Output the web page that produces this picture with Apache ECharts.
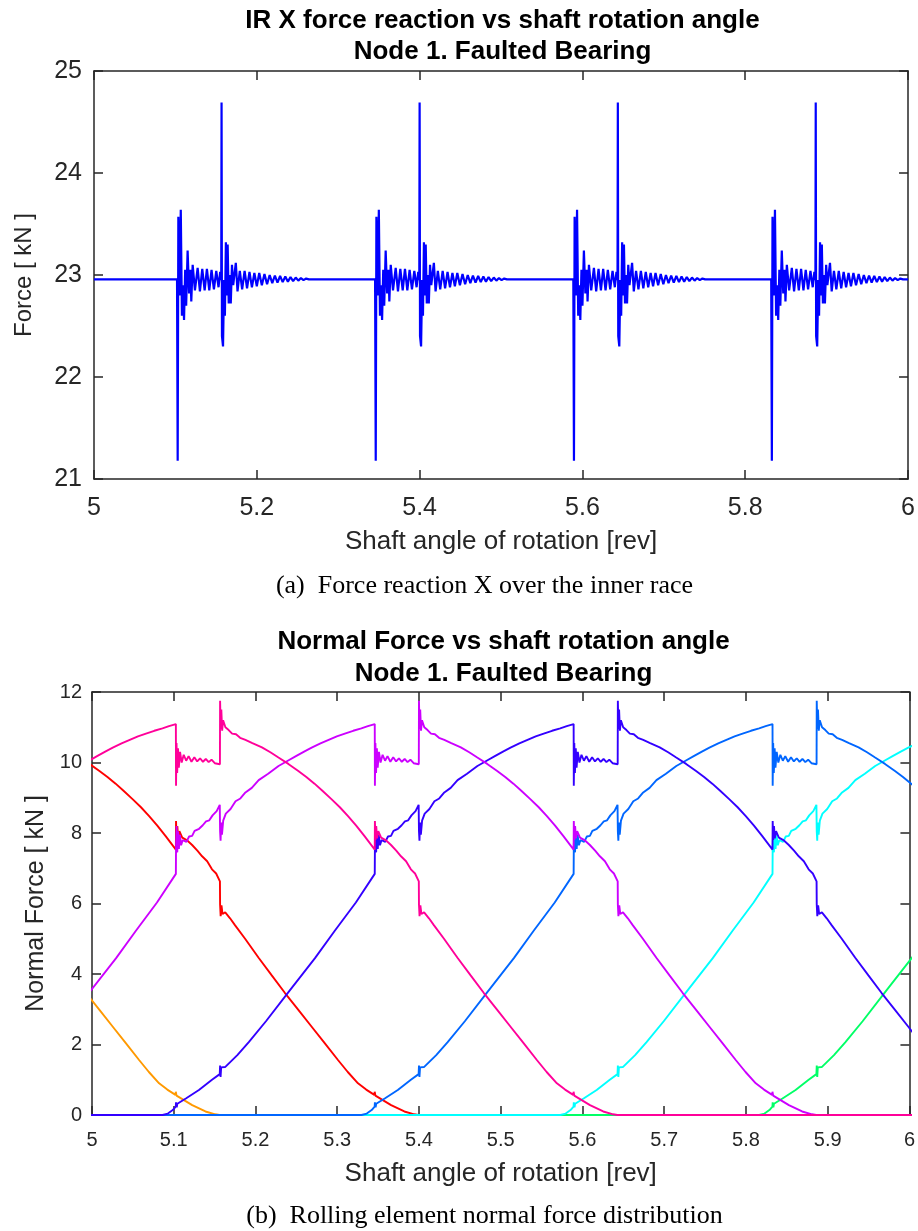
<!DOCTYPE html>
<html>
<head>
<meta charset="utf-8">
<script src="https://cdn.jsdelivr.net/npm/echarts@6/dist/echarts.min.js"></script>
<style>
html,body{margin:0;padding:0;background:#fff;}
#chart{width:918px;height:1231px;}
</style>
</head>
<body>
<div id="chart"></div>
<script>
// ---------- Top chart: IR X force reaction ----------
const irXRange = [5, 6];
const irYRange = [21, 25];
const irBaseline = 22.957;
// fault-impact times (first spike of each burst)
const irBurstTimes = [5.1028, 5.3461, 5.5896, 5.8327];
// burst shape: [offset from first spike (rev), force (kN)]
const irBurst = [
  [-0.0008, 22.957], [0.0000, 21.18], [0.0008, 23.57], [0.0022, 22.80], [0.0038, 23.64],
  [0.0052, 22.60], [0.0064, 22.90], [0.0078, 22.56], [0.0092, 23.05], [0.0104, 22.70],
  [0.0122, 23.24], [0.0140, 22.82], [0.0157, 23.05], [0.0167, 22.74], [0.0184, 23.10],
  [0.0212, 22.85], [0.0245, 23.07], [0.0273, 22.84], [0.0302, 23.06], [0.0331, 22.85],
  [0.0359, 23.06], [0.0388, 22.85], [0.0416, 23.05], [0.0445, 22.86], [0.0474, 23.04],
  [0.0502, 22.88], [0.0522, 23.03], [0.0535, 22.95], [0.0539, 24.69], [0.0544, 22.40],
  [0.0557, 22.30], [0.0570, 22.95], [0.0580, 22.60], [0.0592, 23.32], [0.0602, 22.80],
  [0.0614, 23.30], [0.0627, 22.72], [0.0640, 23.00], [0.0652, 22.72], [0.0667, 23.10],
  [0.0682, 22.90], [0.0714, 23.12], [0.0735, 22.84], [0.0763, 23.04], [0.0792, 22.86],
  [0.0822, 23.04], [0.0852, 22.87], [0.0882, 23.03], [0.0912, 22.88], [0.0942, 23.02],
  [0.0972, 22.89], [0.1002, 23.02], [0.1034, 22.90], [0.1066, 23.01], [0.1098, 22.91],
  [0.1130, 23.00], [0.1162, 22.92], [0.1194, 22.995], [0.1226, 22.925], [0.1258, 22.99],
  [0.1290, 22.93], [0.1322, 22.985], [0.1354, 22.935], [0.1386, 22.98], [0.1418, 22.94],
  [0.1450, 22.975], [0.1482, 22.945], [0.1514, 22.97], [0.1546, 22.95], [0.1578, 22.965],
  [0.1612, 22.957]
];

// ---------- Bottom chart: rolling element normal force ----------
const nfXRange = [5, 6];
const nfYRange = [0, 12];
// load-zone profile of one rolling element:
// [offset from the impact at which it enters the load zone (rev), normal force (kN)]
const nfProfile = [
  [-0.0165, 0.00], [-0.0100, 0.04], [-0.0040, 0.14], [-0.0003, 0.24], [0.0000, 0.36],
  [0.0008, 0.22], [0.0016, 0.32], [0.0120, 0.47], [0.0280, 0.71], [0.0440, 1.00],
  [0.0535, 1.16], [0.0539, 1.40], [0.0545, 1.08], [0.0552, 1.35], [0.0600, 1.36],
  [0.0750, 1.70], [0.0890, 2.07], [0.1100, 2.66], [0.1380, 3.50], [0.1700, 4.45],
  [0.1940, 5.22], [0.2200, 6.03], [0.2431, 6.84], [0.2433, 7.60], [0.2440, 8.20],
  [0.2448, 7.45], [0.2458, 8.05], [0.2468, 7.55], [0.2480, 7.95], [0.2495, 7.65],
  [0.2515, 7.80], [0.2560, 7.75], [0.2593, 7.90], [0.2630, 7.92], [0.2660, 8.06],
  [0.2715, 8.12], [0.2760, 8.22], [0.2800, 8.33], [0.2840, 8.36], [0.2880, 8.50],
  [0.2930, 8.62], [0.2968, 8.80], [0.2972, 8.05], [0.2978, 7.78], [0.2985, 8.30],
  [0.2995, 7.95], [0.3010, 8.35], [0.3042, 8.55], [0.3100, 8.68], [0.3161, 8.90],
  [0.3220, 8.98], [0.3282, 9.15], [0.3360, 9.28], [0.3444, 9.50], [0.3560, 9.68],
  [0.3687, 9.90], [0.3800, 10.05], [0.3900, 10.18], [0.4000, 10.31], [0.4092, 10.42],
  [0.4200, 10.54], [0.4300, 10.64], [0.4400, 10.74], [0.4498, 10.82], [0.4600, 10.90],
  [0.4700, 10.97], [0.4780, 11.03], [0.4864, 11.09], [0.4866, 9.34], [0.4872, 10.55],
  [0.4880, 9.70], [0.4890, 10.40], [0.4900, 9.85], [0.4915, 10.30], [0.4935, 10.00],
  [0.4960, 10.22], [0.4990, 10.05], [0.5020, 10.18], [0.5055, 10.02], [0.5090, 10.15],
  [0.5125, 10.03], [0.5160, 10.12], [0.5195, 10.02], [0.5230, 10.10], [0.5265, 10.01],
  [0.5300, 10.08], [0.5340, 9.98], [0.5403, 9.95], [0.5405, 11.75], [0.5412, 10.95],
  [0.5420, 11.50], [0.5430, 10.90], [0.5442, 11.20], [0.5470, 11.00], [0.5510, 10.92],
  [0.5552, 10.82], [0.5600, 10.80], [0.5650, 10.70], [0.5715, 10.64], [0.5800, 10.55],
  [0.5917, 10.43], [0.6020, 10.29], [0.6119, 10.14], [0.6240, 9.96], [0.6362, 9.76],
  [0.6460, 9.59], [0.6560, 9.40], [0.6660, 9.19], [0.6767, 8.96], [0.6870, 8.73],
  [0.6970, 8.48], [0.7070, 8.21], [0.7172, 7.91], [0.7297, 7.53], [0.7299, 8.34],
  [0.7306, 7.80], [0.7315, 8.20], [0.7325, 7.85], [0.7340, 8.05], [0.7375, 7.87],
  [0.7430, 7.80], [0.7496, 7.66], [0.7560, 7.50], [0.7618, 7.34], [0.7680, 7.20],
  [0.7739, 6.97], [0.7790, 6.85], [0.7836, 6.63], [0.7838, 5.97], [0.7845, 5.64],
  [0.7855, 5.95], [0.7868, 5.70], [0.7901, 5.75], [0.7960, 5.58], [0.8022, 5.38],
  [0.8144, 5.00], [0.8309, 4.46], [0.8470, 3.96], [0.8632, 3.46], [0.8800, 2.97],
  [0.8956, 2.51], [0.9120, 2.03], [0.9280, 1.56], [0.9400, 1.22], [0.9525, 0.90],
  [0.9625, 0.72], [0.9725, 0.57], [0.9729, 0.66], [0.9738, 0.55], [0.9750, 0.60],
  [0.9930, 0.28], [1.0092, 0.10], [1.0213, 0.02], [1.0265, 0.00]
];
// impact time at which each element enters the load zone (null = unloaded in view)
const elementAnchor = [4.3729, 4.1296, null, null, 5.8327, 5.5894, 5.3461, 5.1028, 4.8595, 4.6162];
const elementColor = ['#ff0000', '#ff9900', '#ccff00', '#33ff00', '#00ff66',
                      '#00ffff', '#0066ff', '#3300ff', '#cc00ff', '#ff0099'];
const elementName = ['RE 1','RE 2','RE 3','RE 4','RE 5','RE 6','RE 7','RE 8','RE 9','RE 10'];

// ---------- build data ----------
const irData = [[irXRange[0], irBaseline]];
irBurstTimes.forEach(t => {
  irBurst.forEach(p => irData.push([t + p[0], p[1]]));
});
irData.push([irXRange[1], irBaseline]);

const nfSeries = elementAnchor.map((a, k) => {
  const data = [[4.0, 0]];
  if (a !== null) nfProfile.forEach(p => data.push([a + p[0], p[1]]));
  data.push([7.0, 0]);
  return {
    type: 'line', name: elementName[k], xAxisIndex: 2, yAxisIndex: 2,
    data: data, showSymbol: false, symbol: 'none', clip: true, silent: true,
    lineStyle: { color: elementColor[k], width: 1.9 }, itemStyle: { color: elementColor[k] },
    animation: false
  };
});

// ---------- styling ----------
const AX = '#262626';
const SANS = '"Liberation Sans", Arial, Helvetica, sans-serif';
const SERIF = '"Liberation Serif", "Times New Roman", serif';
const fmt1 = v => String(+v.toFixed(1));

function mainAxis(extra) {
  return Object.assign({
    type: 'value',
    axisLine: { show: true, onZero: false, lineStyle: { color: AX, width: 1.5 } },
    axisTick: { show: true, inside: true, length: 9, lineStyle: { color: AX, width: 1.5 } },
    splitLine: { show: false },
    nameLocation: 'middle',
  }, extra);
}
function mirrorAxis(extra) {
  return Object.assign({
    type: 'value',
    axisLine: { show: true, onZero: false, lineStyle: { color: AX, width: 1.5 } },
    axisTick: { show: true, inside: true, length: 9, lineStyle: { color: AX, width: 1.5 } },
    axisLabel: { show: false },
    splitLine: { show: false }
  }, extra);
}
function txt(x, y, text, font) {
  return { type: 'text', x: x, y: y, silent: true, style: { text: text, font: font, fill: '#000',
    align: 'center', verticalAlign: 'middle', textAlign: 'center', textVerticalAlign: 'middle' } };
}

const option = {
  animation: false,
  backgroundColor: '#ffffff',
  grid: [
    { left: 94, top: 71, width: 817, height: 408 },
    { left: 92, top: 692, width: 823, height: 423 }
  ],
  xAxis: [
    mainAxis({ gridIndex: 0, position: 'bottom', min: irXRange[0], max: irXRange[1], interval: 0.2,
      axisLabel: { color: AX, fontSize: 25, fontFamily: SANS, margin: 17, formatter: fmt1 },
      name: 'Shaft angle of rotation [rev]', nameGap: 50,
      nameTextStyle: { color: AX, fontSize: 26, fontFamily: SANS } }),
    mirrorAxis({ gridIndex: 0, position: 'top', min: irXRange[0], max: irXRange[1], interval: 0.2 }),
    mainAxis({ gridIndex: 1, position: 'bottom', min: nfXRange[0], max: nfXRange[1], interval: 0.1,
      axisLabel: { color: AX, fontSize: 20, fontFamily: SANS, margin: 15, formatter: fmt1 },
      name: 'Shaft angle of rotation [rev]', nameGap: 46,
      nameTextStyle: { color: AX, fontSize: 26, fontFamily: SANS } }),
    mirrorAxis({ gridIndex: 1, position: 'top', min: nfXRange[0], max: nfXRange[1], interval: 0.1 })
  ],
  yAxis: [
    mainAxis({ gridIndex: 0, position: 'left', min: irYRange[0], max: irYRange[1], interval: 1,
      axisLabel: { color: AX, fontSize: 25, fontFamily: SANS, margin: 12 },
      name: 'Force [ kN ]', nameGap: 58,
      nameTextStyle: { color: AX, fontSize: 24, fontFamily: SANS } }),
    mirrorAxis({ gridIndex: 0, position: 'right', min: irYRange[0], max: irYRange[1], interval: 1 }),
    mainAxis({ gridIndex: 1, position: 'left', min: nfYRange[0], max: nfYRange[1], interval: 2,
      axisLabel: { color: AX, fontSize: 20, fontFamily: SANS, margin: 10 },
      name: 'Normal Force [ kN ]', nameGap: 43,
      nameTextStyle: { color: AX, fontSize: 25, fontFamily: SANS } }),
    mirrorAxis({ gridIndex: 1, position: 'right', min: nfYRange[0], max: nfYRange[1], interval: 2 })
  ],
  graphic: [
    txt(502.5, 21, 'IR X force reaction vs shaft rotation angle', 'bold 26px ' + SANS),
    txt(502.5, 52, 'Node 1. Faulted Bearing', 'bold 26px ' + SANS),
    txt(484.5, 586, '(a)  Force reaction X over the inner race', '26px ' + SERIF),
    txt(503.5, 642, 'Normal Force vs shaft rotation angle', 'bold 26px ' + SANS),
    txt(503.5, 673.5, 'Node 1. Faulted Bearing', 'bold 26px ' + SANS),
    txt(484.5, 1216, '(b)  Rolling element normal force distribution', '26px ' + SERIF)
  ],
  series: [
    {
      type: 'line', name: 'IR X force', xAxisIndex: 0, yAxisIndex: 0,
      data: irData, showSymbol: false, symbol: 'none', clip: true, silent: true,
      lineStyle: { color: '#0000ff', width: 2.2 }, itemStyle: { color: '#0000ff' }
    }
  ].concat(nfSeries)
};

const chart = echarts.init(document.getElementById('chart'), null, { renderer: 'canvas' });
chart.setOption(option);
</script>
</body>
</html>
